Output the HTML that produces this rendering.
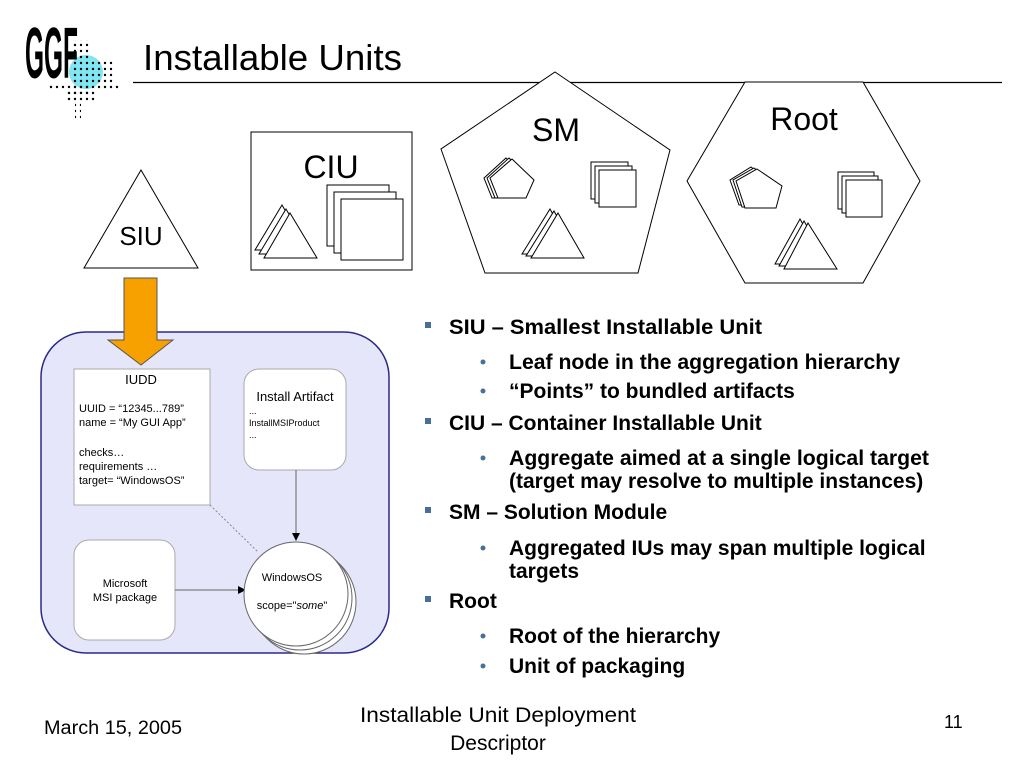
<!DOCTYPE html>
<html><head><meta charset="utf-8"><style>
html,body{margin:0;padding:0;background:#fff}
svg{display:block}
text{font-family:"Liberation Sans",Arial,sans-serif}
</style></head><body>
<svg width="1024" height="768" viewBox="0 0 1024 768" xmlns="http://www.w3.org/2000/svg">
<defs>
<marker id="ar" markerWidth="8" markerHeight="8" refX="7" refY="4" orient="auto" markerUnits="userSpaceOnUse"><path d="M0,0 L8,4 L0,8 z" fill="#000"/></marker>
<pattern id="dots" width="6" height="6" patternUnits="userSpaceOnUse"><circle cx="3" cy="3" r="1.2" fill="#000"/></pattern>
</defs>
<!-- logo -->
<circle cx="86" cy="72" r="17" fill="#7fe6f2"/>
<rect x="72" y="40" width="18" height="54" fill="url(#dots)"/>
<rect x="90" y="60" width="24" height="24" fill="url(#dots)"/>
<rect x="48" y="84" width="72" height="6" fill="url(#dots)"/>
<rect x="66" y="90" width="30" height="12" fill="url(#dots)"/>
<rect x="75" y="102" width="6" height="18" fill="url(#dots)"/>
<text x="25" y="78" font-size="72" font-weight="bold" textLength="53" lengthAdjust="spacingAndGlyphs" fill="#000">GGF</text>
<!-- title -->
<text x="143" y="70" font-size="36" textLength="259" lengthAdjust="spacingAndGlyphs" fill="#000">Installable Units</text>
<line x1="133" y1="82.5" x2="1002" y2="82.5" stroke="#000" stroke-width="1.2"/>

<g fill="#fff" stroke="#000" stroke-width="1">
<polygon points="141,170 198,268 84,268"/>
<rect x="251" y="132" width="161" height="138"/>
<polygon points="282,205 308,250 255,250"/>
<polygon points="286,209 312,254 259,254"/>
<polygon points="290,213 317,258 264,258"/>
<rect x="327" y="185" width="62" height="61"/>
<rect x="334" y="192" width="62" height="61"/>
<rect x="341" y="199" width="62" height="61"/>
<polygon points="555,72 670,150 638,273 485,273 441,149"/>
<polygon points="506,158 528,180 520,198 492,198 484,178"/>
<polygon points="509,158 531,180 523,198 495,198 487,178"/>
<polygon points="512,159 534,180 526,198 498,198 490,178"/>
<rect x="591" y="162" width="37" height="37"/>
<rect x="595" y="166" width="37" height="37"/>
<rect x="599" y="170" width="37" height="37"/>
<polygon points="550,209 575,254 522,254"/>
<polygon points="554,211 579,256 526,256"/>
<polygon points="558,213 584,258 531,258"/>
<polygon points="745,82 863,82 920,181 863,283 745,283 687,181"/>
<polygon points="751,167 774,185 767,205 739,205 730,180"/>
<polygon points="754,168 777,186 770,207 742,207 733,180"/>
<polygon points="757,169 782,186 776,208 745,208 736,181"/>
<rect x="838" y="172" width="36" height="37"/>
<rect x="842" y="176" width="36" height="37"/>
<rect x="846" y="180" width="36" height="37"/>
<polygon points="800,219 825,264 775,264"/>
<polygon points="804,221 830,266 779,266"/>
<polygon points="808,223 837,269 784,269"/>
</g>
<text x="141" y="245" font-size="26" text-anchor="middle">SIU</text>
<text x="331" y="178" font-size="32" text-anchor="middle">CIU</text>
<text x="556" y="141" font-size="32" text-anchor="middle">SM</text>
<text x="804" y="130" font-size="32" text-anchor="middle">Root</text>

<rect x="41" y="332" width="348" height="321" rx="45" fill="#e6e6fa" stroke="#2a2a8a" stroke-width="1.5"/>
<polygon points="124,278 157,278 157,340 173,340 141,365 108,340 124,340" fill="#f7a100" stroke="#555" stroke-width="1"/>
<rect x="74" y="369" width="136" height="136" fill="#fff" stroke="#aaa"/>
<text x="141" y="384" font-size="13" text-anchor="middle">IUDD</text>
<g font-size="11">
<text x="79" y="412">UUID = “12345...789”</text>
<text x="79" y="426">name = “My GUI App”</text>
<text x="79" y="456">checks…</text>
<text x="79" y="470">requirements …</text>
<text x="79" y="484">target= “WindowsOS”</text>
</g>
<rect x="244" y="369" width="102" height="101" rx="15" fill="#fff" stroke="#aaa"/>
<text x="295" y="401" font-size="13" text-anchor="middle">Install Artifact</text>
<g font-size="9"><text x="249" y="414">...</text><text x="249" y="426">InstallMSIProduct</text><text x="249" y="438">...</text></g>
<rect x="74" y="540" width="101" height="100" rx="15" fill="#fff" stroke="#aaa"/>
<text x="125" y="587" font-size="11" text-anchor="middle">Microsoft</text>
<text x="125" y="601" font-size="11" text-anchor="middle">MSI package</text>
<line x1="210" y1="505" x2="258" y2="552" stroke="#888" stroke-dasharray="2,2"/>
<line x1="296" y1="470" x2="296" y2="540" stroke="#666" marker-end="url(#ar)"/>
<line x1="175" y1="590" x2="245" y2="590" stroke="#666" marker-end="url(#ar)"/>
<g fill="#fff" stroke="#666">
<circle cx="304" cy="602" r="52"/>
<circle cx="300" cy="598" r="52"/>
<circle cx="296" cy="594" r="52"/>
</g>
<text x="292" y="581" font-size="11" text-anchor="middle">WindowsOS</text>
<text x="292" y="609" font-size="11" text-anchor="middle">scope="<tspan font-style="italic">some</tspan>"</text>

<g font-size="21" font-weight="bold" fill="#000">
<rect x="425" y="322" width="6" height="6" fill="#4a6e9a"/>
<text x="449" y="334" textLength="313" lengthAdjust="spacingAndGlyphs">SIU – Smallest Installable Unit</text>
<text x="509" y="369" textLength="391" lengthAdjust="spacingAndGlyphs">Leaf node in the aggregation hierarchy</text>
<text x="509" y="398">“Points” to bundled artifacts</text>
<rect x="425" y="418" width="6" height="6" fill="#4a6e9a"/>
<text x="449" y="430">CIU – Container Installable Unit</text>
<text x="509" y="465" textLength="420" lengthAdjust="spacingAndGlyphs">Aggregate aimed at a single logical target</text>
<text x="509" y="488">(target may resolve to multiple instances)</text>
<rect x="425" y="507" width="6" height="6" fill="#4a6e9a"/>
<text x="449" y="519">SM – Solution Module</text>
<text x="509" y="555">Aggregated IUs may span multiple logical</text>
<text x="509" y="578">targets</text>
<rect x="425" y="596" width="6" height="6" fill="#4a6e9a"/>
<text x="449" y="608">Root</text>
<text x="509" y="643">Root of the hierarchy</text>
<text x="509" y="673">Unit of packaging</text>
</g>
<g fill="#4a6e9a">
<circle cx="483" cy="362" r="2.5"/><circle cx="483" cy="391" r="2.5"/>
<circle cx="483" cy="458" r="2.5"/><circle cx="483" cy="548" r="2.5"/>
<circle cx="483" cy="636" r="2.5"/><circle cx="483" cy="666" r="2.5"/>
</g>
<text x="44" y="734" font-size="19" textLength="138" lengthAdjust="spacingAndGlyphs">March 15, 2005</text>
<text x="360" y="722" font-size="21" textLength="276" lengthAdjust="spacingAndGlyphs">Installable Unit Deployment</text>
<text x="498" y="750" font-size="21" text-anchor="middle">Descriptor</text>
<text x="944" y="728" font-size="18">11</text>
</svg>
</body></html>
